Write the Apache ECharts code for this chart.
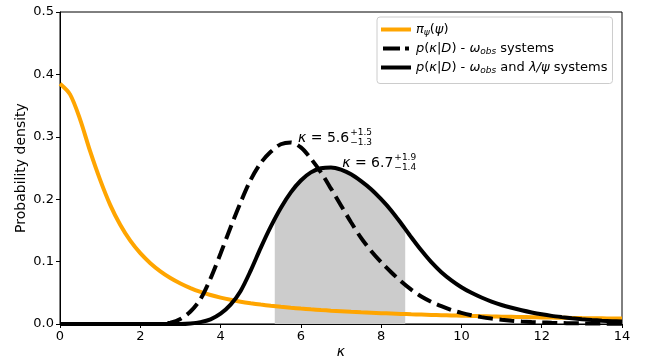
<!DOCTYPE html>
<html>
<head>
<meta charset="utf-8">
<script src="https://cdn.jsdelivr.net/npm/echarts@6/dist/echarts.min.js"></script>
<style>
  html, body { margin: 0; padding: 0; background: #fff; }
  #chart { width: 650px; height: 362px; }
</style>
</head>
<body>
<div id="chart"></div>
<script>
// values, kappa step 0.25
const kappa = [0, 0.25, 0.5, 0.75, 1, 1.25, 1.5, 1.75, 2, 2.25, 2.5, 2.75, 3, 3.25, 3.5, 3.75, 4, 4.25, 4.5, 4.75,
               5, 5.25, 5.5, 5.75, 6, 6.25, 6.5, 6.75, 7, 7.25, 7.5, 7.75, 8, 8.25, 8.5, 8.75, 9, 9.25, 9.5, 9.75,
               10, 10.25, 10.5, 10.75, 11, 11.25, 11.5, 11.75, 12, 12.25, 12.5, 12.75, 13, 13.25, 13.5, 13.75, 14];
const prior = [0.385, 0.368, 0.328, 0.277, 0.231, 0.191, 0.159, 0.1335, 0.1135, 0.0975, 0.0845, 0.0738, 0.0650, 0.0576, 0.0515, 0.0465, 0.0423, 0.0388, 0.0358, 0.0333,
               0.0311, 0.0292, 0.0275, 0.0260, 0.0247, 0.0235, 0.0224, 0.0214, 0.0205, 0.0196, 0.0188, 0.0181, 0.0174, 0.0168, 0.0162, 0.0156, 0.0151, 0.0146, 0.0141, 0.0137,
               0.0133, 0.0129, 0.0125, 0.0121, 0.0118, 0.0115, 0.0112, 0.0109, 0.0106, 0.0103, 0.0100, 0.0098, 0.0095, 0.0093, 0.0091, 0.0089, 0.0087];
const postOmega = [0, 0, 0, 0, 0, 0, 0, 0, 0, 0, 0, 0.002, 0.008, 0.020, 0.040, 0.073, 0.113, 0.155, 0.195, 0.231,
                   0.258, 0.276, 0.288, 0.291, 0.283, 0.265, 0.243, 0.217, 0.190, 0.163, 0.138, 0.117, 0.099, 0.083, 0.068, 0.055, 0.044, 0.0355, 0.0285, 0.0225,
                   0.0178, 0.014, 0.011, 0.0087, 0.0068, 0.0053, 0.0042, 0.0033, 0.0026, 0.002, 0.0016, 0.0012, 0.001, 0.0008, 0.0006, 0.0005, 0.0004];
const postAll = [0, 0, 0, 0, 0, 0, 0, 0, 0, 0, 0, 0, 0, 0.0008, 0.003, 0.0075, 0.0165, 0.031, 0.053, 0.0855,
                 0.122, 0.156, 0.186, 0.211, 0.230, 0.243, 0.2495, 0.251, 0.2475, 0.240, 0.229, 0.216, 0.200, 0.182, 0.161, 0.139, 0.118, 0.099, 0.083, 0.070,
                 0.059, 0.050, 0.0425, 0.036, 0.0305, 0.026, 0.022, 0.0185, 0.0155, 0.013, 0.011, 0.0092, 0.0077, 0.0064, 0.0054, 0.0046, 0.0039];
// credible interval of the last posterior and the curve height at its edges
const shadeRange = [5.35, 8.6];
const shadeEdge = [0.168, 0.151];
const yTicks = [0, 0.1, 0.2, 0.3, 0.4, 0.5];
const notes = [
  { x: 5.93, y: 0.298, value: '5.6', up: '+1.5', down: '\u22121.3' },
  { x: 7.03, y: 0.258, value: '6.7', up: '+1.9', down: '\u22121.4' }
];

const FONT = '"DejaVu Sans", sans-serif';
const pair = (ys) => kappa.map((k, i) => [k, ys[i]]);
const shadeData = [[shadeRange[0], shadeEdge[0]]]
  .concat(pair(postAll).filter(p => p[0] > shadeRange[0] && p[0] < shadeRange[1]))
  .concat([[shadeRange[1], shadeEdge[1]]]);

const chart = echarts.init(document.getElementById('chart'));

const legendRich = {
  n: { fontFamily: FONT, fontSize: 13, color: '#000', lineHeight: 16 },
  i: { fontFamily: FONT, fontSize: 13, color: '#000', fontStyle: 'italic', lineHeight: 16 },
  s: { fontFamily: FONT, fontSize: 9, color: '#000', fontStyle: 'italic', verticalAlign: 'bottom', lineHeight: 10 }
};
const legendText = {
  'pi': '{i|\u03c0}{s|\u03c8}{n|(}{i|\u03c8}{n|)}',
  'omega': '{i|p}{n|(}{i|\u03ba}{n||}{i|D}{n|) - }{i|\u03c9}{s|obs}{n| systems}',
  'all': '{i|p}{n|(}{i|\u03ba}{n||}{i|D}{n|) - }{i|\u03c9}{s|obs}{n| and }{i|\u03bb/\u03c8}{n| systems}'
};
const solidIcon = 'path://M0,0H30V4H0Z';
const dashIcon = 'path://M0,0H17V4H0Z M22,0H26V4H22Z';

const option = {
  animation: false,
  grid: {
    left: 60, right: 28, top: 12, bottom: 38, outerBoundsMode: 'none',
    show: true, borderColor: '#000', borderWidth: 1
  },
  legend: {
    data: [
      { name: 'pi', icon: solidIcon },
      { name: 'omega', icon: dashIcon },
      { name: 'all', icon: solidIcon }
    ],
    orient: 'vertical',
    left: 377,
    top: 17,
    itemWidth: 30,
    itemHeight: 4,
    itemGap: 4.5,
    symbolKeepAspect: true,
    padding: [6, 5, 8, 4],
    borderColor: '#cccccc',
    borderWidth: 1,
    borderRadius: 3,
    backgroundColor: 'rgba(255,255,255,0.8)',
    formatter: (name) => legendText[name],
    textStyle: { rich: legendRich }
  },
  xAxis: {
    type: 'value',
    min: 0, max: 14, interval: 2,
    name: '\u03ba',
    nameLocation: 'middle',
    nameGap: 21,
    nameMoveOverlap: false,
    nameTextStyle: { fontFamily: FONT, fontSize: 14, fontStyle: 'italic', color: '#000' },
    axisLine: { lineStyle: { color: '#000', width: 1 } },
    axisTick: { length: 4, lineStyle: { color: '#000' } },
    axisLabel: { fontFamily: FONT, fontSize: 13, color: '#000', margin: 6 },
    splitLine: { show: false }
  },
  yAxis: {
    type: 'value',
    min: yTicks[0], max: yTicks[yTicks.length - 1], interval: 0.1,
    name: 'Probability density',
    nameLocation: 'middle',
    nameGap: 32,
    nameMoveOverlap: false,
    nameTextStyle: { fontFamily: FONT, fontSize: 14, color: '#000' },
    axisLine: { show: true, lineStyle: { color: '#000', width: 1 } },
    axisTick: { show: true, length: 4, lineStyle: { color: '#000' } },
    axisLabel: { fontFamily: FONT, fontSize: 13, color: '#000', margin: 6, formatter: (v) => v.toFixed(1) },
    splitLine: { show: false }
  },
  series: [
    {
      name: 'shade', type: 'line', data: shadeData, smooth: 0.3, symbol: 'none', silent: true,
      lineStyle: { width: 0 }, areaStyle: { color: '#cccccc', opacity: 1 }, z: 1
    },
    {
      name: 'pi', type: 'line', data: pair(prior), smooth: 0.3, symbol: 'none',
      lineStyle: { color: '#ffa500', width: 4 }, itemStyle: { color: '#ffa500' }, z: 3
    },
    {
      name: 'omega', type: 'line', data: pair(postOmega), smooth: 0.3, symbol: 'none',
      lineStyle: { color: '#000', width: 4, type: [15, 6.5] }, itemStyle: { color: '#000' }, z: 4
    },
    {
      name: 'all', type: 'line', data: pair(postAll), smooth: 0.3, symbol: 'none',
      lineStyle: { color: '#000', width: 4 }, itemStyle: { color: '#000' }, z: 5
    }
  ]
};
chart.setOption(option);

// annotations: kappa = value with stacked upper / lower errors
const ctx = document.createElement('canvas').getContext('2d');
function textWidth(t, font) { ctx.font = font; return ctx.measureText(t).width; }
const mainFont = '14px ' + FONT;
const graphics = notes.map(n => {
  const [px, py] = chart.convertToPixel({ gridIndex: 0 }, [n.x, n.y]);
  const wk = textWidth('\u03ba', 'italic ' + mainFont);
  const w = wk + textWidth(' = ' + n.value, mainFont);
  return {
    type: 'group', x: px, y: py, z: 10,
    children: [
      { type: 'text', x: 0, y: 0, style: { text: '\u03ba', font: 'italic ' + mainFont, fill: '#000', verticalAlign: 'middle' } },
      { type: 'text', x: wk, y: 0, style: { text: ' = ' + n.value, font: mainFont, fill: '#000', verticalAlign: 'middle' } },
      { type: 'text', x: w + 1, y: -5, style: { text: n.up, font: '9px ' + FONT, fill: '#000', verticalAlign: 'middle' } },
      { type: 'text', x: w + 1, y: 5, style: { text: n.down, font: '9px ' + FONT, fill: '#000', verticalAlign: 'middle' } }
    ]
  };
});
chart.setOption({ graphic: graphics });
</script>
</body>
</html>
